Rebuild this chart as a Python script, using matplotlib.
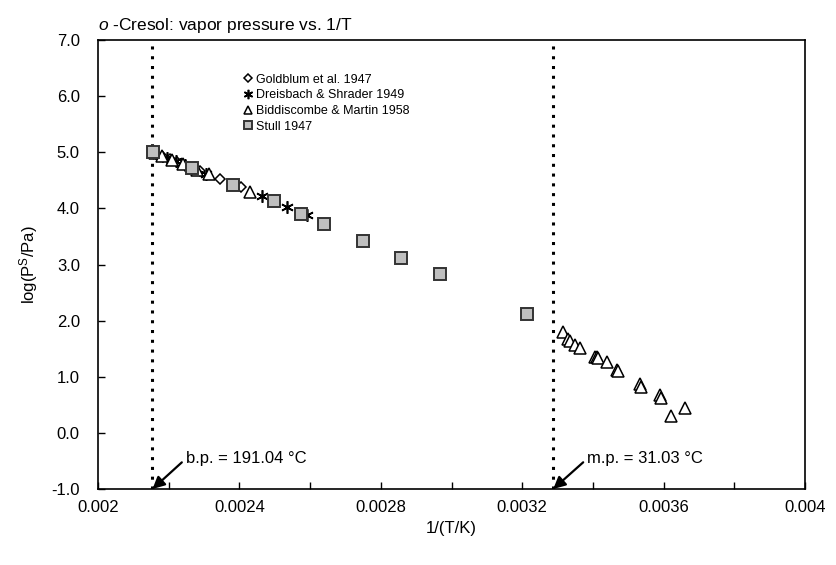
import matplotlib
matplotlib.use("Agg")
import matplotlib.pyplot as plt
from matplotlib.ticker import MultipleLocator, FuncFormatter

plt.rcParams['font.family'] = ['Liberation Sans', 'DejaVu Sans']
plt.rcParams['axes.unicode_minus'] = False
plt.rcParams['mathtext.fontset'] = 'custom'
plt.rcParams['mathtext.rm'] = 'Liberation Sans'
plt.rcParams['mathtext.it'] = 'Liberation Sans:italic'

# Goldblum et al. 1947
gold_x = [0.002165, 0.002185, 0.002205, 0.002225, 0.00225, 0.00229, 0.002345, 0.002405]
gold_y = [4.975, 4.925, 4.875, 4.825, 4.76, 4.66, 4.52, 4.38]

# Dreisbach & Shrader 1949
dreis_x = [0.00217, 0.002195, 0.00222, 0.002245, 0.002307, 0.002465, 0.002535, 0.002592]
dreis_y = [4.96, 4.90, 4.84, 4.775, 4.62, 4.22, 4.02, 3.89]

# Biddiscombe & Martin 1958
bidd_x = [0.00216, 0.00218, 0.00221, 0.00224, 0.00228, 0.002313, 0.002431,
          0.003315, 0.003330, 0.003335, 0.003349, 0.003363, 0.003406, 0.003410,
          0.003414, 0.003439, 0.003468, 0.003471, 0.003532, 0.003535, 0.003589,
          0.003592, 0.003620, 0.003659]
bidd_y = [4.99, 4.94, 4.86, 4.79, 4.69, 4.62, 4.30,
          1.80, 1.68, 1.63, 1.57, 1.52, 1.36, 1.35,
          1.34, 1.27, 1.12, 1.10, 0.88, 0.82, 0.68,
          0.63, 0.30, 0.45]

# Stull 1947
stull_x = [0.002155, 0.002265, 0.002382, 0.002497, 0.002573, 0.002639, 0.002750, 0.002858, 0.002966, 0.003212]
stull_y = [5.006, 4.727, 4.426, 4.125, 3.903, 3.727, 3.426, 3.125, 2.824, 2.125]

bp_x = 1 / (191.04 + 273.15)
mp_x = 1 / (31.03 + 273.15)
bp_label = "b.p. = 191.04 °C"
mp_label = "m.p. = 31.03 °C"

fig = plt.figure(figsize=(8.37, 5.65), dpi=100)
ax = fig.add_axes([0.117, 0.1345, 0.845, 0.7945])

ax.axvline(bp_x, color='black', linestyle=(0, (1, 2.2)), linewidth=2.2, zorder=1)
ax.axvline(mp_x, color='black', linestyle=(0, (1, 2.2)), linewidth=2.2, zorder=1)

h1, = ax.plot(gold_x, gold_y, linestyle='none', marker='D', markersize=5.5,
              markerfacecolor='white', markeredgecolor='black', markeredgewidth=1.1,
              label='Goldblum et al. 1947', zorder=3)
h2, = ax.plot(dreis_x, dreis_y, linestyle='none', marker=(6, 2, 0), markersize=9,
              markeredgecolor='black', markeredgewidth=1.2,
              label='Dreisbach & Shrader 1949', zorder=3)
h3, = ax.plot(bidd_x, bidd_y, linestyle='none', marker='^', markersize=8.5,
              markerfacecolor='white', markeredgecolor='black', markeredgewidth=1.1,
              label='Biddiscombe & Martin 1958', zorder=3)
h4, = ax.plot(stull_x, stull_y, linestyle='none', marker='s', markersize=8,
              markerfacecolor='#BFBFBF', markeredgecolor='#333333', markeredgewidth=1.4,
              label='Stull 1947', zorder=4)

ax.set_xlim(0.002, 0.004)
ax.set_ylim(-1.0, 7.0)

ax.xaxis.set_major_locator(MultipleLocator(0.0002))
ax.xaxis.set_major_formatter(FuncFormatter(
    lambda v, p: (f"{v:.4f}".rstrip('0') if abs(round(v / 0.0004) * 0.0004 - v) < 1e-9 else "")))
ax.yaxis.set_major_locator(MultipleLocator(1.0))
ax.yaxis.set_major_formatter(FuncFormatter(lambda v, p: f"{v:.1f}"))

ax.tick_params(axis='both', direction='in', length=5, width=1, labelsize=12, colors='black')
ax.tick_params(axis='x', pad=8)
ax.tick_params(axis='y', pad=13)
for s in ax.spines.values():
    s.set_linewidth(1.2)

ax.set_xlabel('1/(T/K)', fontsize=12, labelpad=4)
ax.set_ylabel('log(P$^\\mathregular{S}$/Pa)', fontsize=12, labelpad=8)

ax.text(0.0, 1.012, '$\\mathit{o}$ -Cresol: vapor pressure vs. 1/T', transform=ax.transAxes,
        fontsize=12.5, ha='left', va='bottom')

ax.annotate(bp_label, xy=(bp_x, -1.0), xytext=(0.002248, -0.45),
            fontsize=12, va='center', ha='left',
            arrowprops=dict(arrowstyle='-|>', color='black', lw=1.6,
                            mutation_scale=18, shrinkA=1, shrinkB=0, relpos=(0, 0.45)))
ax.annotate(mp_label, xy=(mp_x, -1.0), xytext=(0.003383, -0.45),
            fontsize=12, va='center', ha='left',
            arrowprops=dict(arrowstyle='-|>', color='black', lw=1.6,
                            mutation_scale=18, shrinkA=1, shrinkB=0, relpos=(0, 0.45)))

leg = ax.legend(handles=[h1, h2, h3, h4], loc='upper left', bbox_to_anchor=(0.194, 0.945),
                frameon=False, fontsize=9, handlelength=0.6, handletextpad=0.4,
                labelspacing=0.3, markerscale=0.75, borderpad=0.2)

fig.savefig('out.png', dpi=100)
